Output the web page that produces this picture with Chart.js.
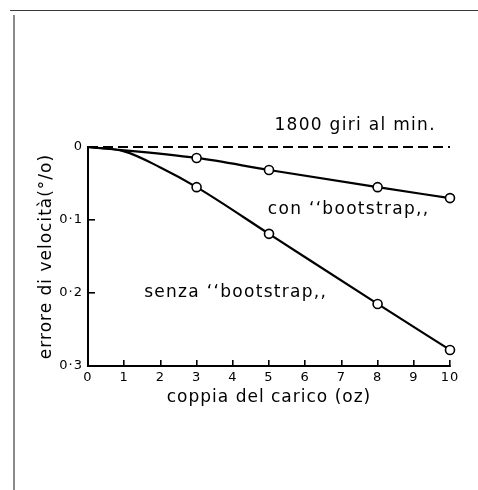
<!DOCTYPE html>
<html>
<head>
<meta charset="utf-8">
<script src="https://cdn.jsdelivr.net/npm/chart.js@4/dist/chart.umd.min.js"></script>
<style>
  body { margin: 0; background: #fff; }
  #wrap { position: relative; width: 478px; height: 490px; overflow: hidden; }
  #frameTop { position: absolute; left: 10px; top: 10px; width: 468px; height: 1px; background: #3a3a3a; }
  #frameLeft { position: absolute; left: 13px; top: 15px; width: 2px; height: 475px; background: #8a8a8a; }
</style>
</head>
<body>
<div id="wrap">
  <canvas id="chart" width="478" height="490"></canvas>
  <div id="frameTop"></div>
  <div id="frameLeft"></div>
</div>
<script>
// coppia del carico (oz) -> errore di velocità (%)
const conX = [0, 3, 5, 8, 10]
const conY = [0, 0.015, 0.0315, 0.055, 0.070]
const senzaX = [0, 1, 2, 3, 5, 8, 10]
const senzaY = [0, 0.006, 0.028, 0.055, 0.119, 0.215, 0.278]
const refX = [0, 10]
const refY = [0, 0]
const yTickLabels = ['0', '0·1', '0·2', '0·3']

const font = '"DejaVu Sans", sans-serif'
const ink = '#000'

const toPoints = (xs, ys) => xs.map((x, i) => ({ x: x, y: ys[i] }))
const markers = xs => xs.map(x => x >= 3 ? 4.5 : 0)

// text written on the plot, placed in data units
const notes = [
    { text: '1800 giri al min.', x: 7.38, y: -0.030 },
    { text: 'con ‘‘bootstrap,,', x: 7.2, y: 0.086 },
    { text: 'senza ‘‘bootstrap,,', x: 4.08, y: 0.199 }
]

const notesPlugin = {
    id: 'notes',
    beforeDraw(chart) {
        // the lettering on the original is wide-spaced
        chart.ctx.letterSpacing = '1px'
    },
    afterDatasetsDraw(chart) {
        const ctx = chart.ctx
        const sx = chart.scales.x, sy = chart.scales.y
        ctx.save()
        ctx.fillStyle = ink
        ctx.font = '17px ' + font
        ctx.letterSpacing = '1.3px'
        ctx.textAlign = 'center'
        ctx.textBaseline = 'middle'
        notes.forEach(n => ctx.fillText(n.text, sx.getPixelForValue(n.x), sy.getPixelForValue(n.y)))
        ctx.restore()
    }
}

const lineStyle = {
    borderColor: ink,
    borderWidth: 2.2,
    pointBackgroundColor: '#fff',
    pointBorderColor: ink,
    pointBorderWidth: 1.6,
    cubicInterpolationMode: 'monotone',
    fill: false,
    clip: 6
}

new Chart(document.getElementById('chart'), {
    type: 'line',
    data: {
        datasets: [
            { label: '1800 giri al min.', data: toPoints(refX, refY), borderColor: ink, borderWidth: 2.2, borderDash: [10, 5], pointRadius: 0, clip: 6 },
            Object.assign({ label: 'con bootstrap', data: toPoints(conX, conY), pointRadius: markers(conX) }, lineStyle),
            Object.assign({ label: 'senza bootstrap', data: toPoints(senzaX, senzaY), pointRadius: markers(senzaX) }, lineStyle)
        ]
    },
    options: {
        responsive: false,
        animation: false,
        layout: { padding: { left: 30, right: 28, top: 147, bottom: 82 } },
        plugins: { legend: { display: false }, tooltip: { enabled: false } },
        scales: {
            x: {
                type: 'linear', min: 0, max: 10,
                afterFit: s => { s.height = 42 },
                border: { color: ink, width: 2 },
                grid: { drawOnChartArea: false, tickLength: -6, color: ink, lineWidth: 1.6 },
                ticks: { stepSize: 1, padding: 10, color: ink, font: { family: font, size: 13 } },
                title: { display: true, text: 'coppia del carico (oz)', color: ink, padding: 0, font: { family: font, size: 17 } }
            },
            y: {
                type: 'linear', min: 0, max: 0.3, reverse: true,
                afterFit: s => { s.width = 58 },
                border: { color: ink, width: 2 },
                grid: { drawOnChartArea: false, tickLength: -7, color: ink, lineWidth: 1.6 },
                ticks: { stepSize: 0.1, padding: 12, color: ink, font: { family: font, size: 13 },
                    callback: v => yTickLabels[Math.round(v * 10)] },
                title: { display: true, text: 'errore di velocità(°/o)', color: ink, padding: { top: 6, bottom: 0 }, font: { family: font, size: 17 } }
            }
        }
    },
    plugins: [notesPlugin]
})
</script>
</body>
</html>
